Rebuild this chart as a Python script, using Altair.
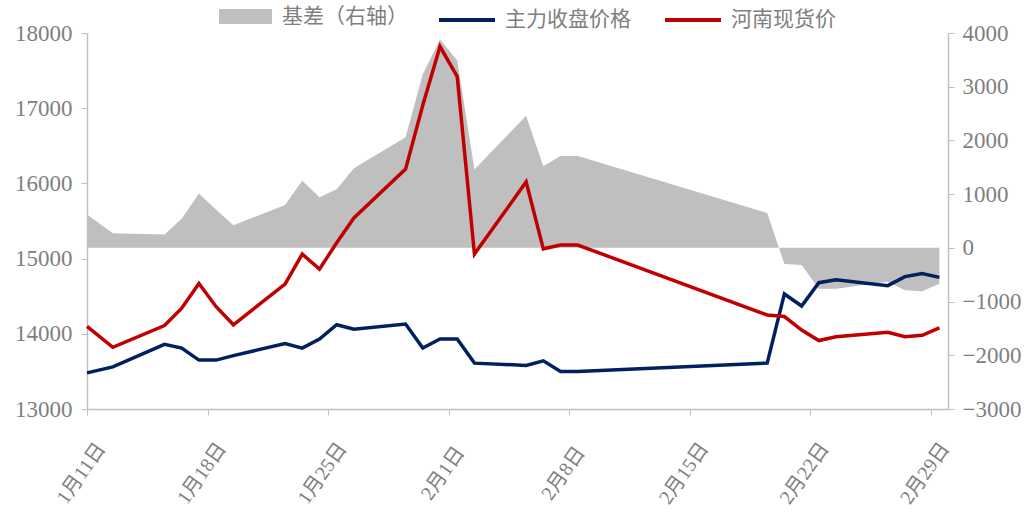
import altair as alt
import pandas as pd

# Trading days, 2024
dates = [
    "2024-01-11", "2024-01-12", "2024-01-15", "2024-01-16", "2024-01-17",
    "2024-01-18", "2024-01-19", "2024-01-22", "2024-01-23", "2024-01-24",
    "2024-01-25", "2024-01-26", "2024-01-29", "2024-01-30", "2024-01-31",
    "2024-02-01", "2024-02-02", "2024-02-05", "2024-02-06", "2024-02-07",
    "2024-02-08", "2024-02-19", "2024-02-20", "2024-02-21", "2024-02-22",
    "2024-02-23", "2024-02-26", "2024-02-27", "2024-02-28", "2024-02-29",
]

# Main contract closing price (yuan/t)
futures = [
    13480, 13560, 13860, 13810, 13650, 13650, 13710, 13870, 13810, 13930,
    14120, 14060, 14130, 13810, 13930, 13930, 13610, 13580, 13640, 13500,
    13500, 13610, 14530, 14370, 14680, 14720, 14640, 14760, 14800, 14750,
]

# Henan spot price (yuan/t)
spot = [
    14100, 13820, 14110, 14340, 14670, 14360, 14120, 14660, 15060, 14860,
    15210, 15540, 16190, 17040, 17820, 17420, 15060, 16020, 15130, 15180,
    15180, 14250, 14230, 14050, 13910, 13960, 14020, 13960, 13980, 14080,
]

# Basis (right axis)
basis = [
    620, 270, 250, 540, 1010, 710, 420, 800, 1250, 940,
    1090, 1480, 2060, 3230, 3880, 3490, 1460, 2460, 1520, 1710,
    1710, 650, -300, -320, -760, -760, -630, -790, -810, -670,
]

tick_days = [(1, 11), (1, 18), (1, 25), (2, 1), (2, 8), (2, 15), (2, 22), (2, 29)]
left_ticks = [13000, 14000, 15000, 16000, 17000, 18000]
right_ticks = [-3000, -2000, -1000, 0, 1000, 2000, 3000, 4000]

S_FUT = "主力收盘价格"
S_SPOT = "河南现货价"
S_BASIS = "基差（右轴）"

NAVY = "#002060"
RED = "#C00000"
AREA = "#BFBFBF"
TEXT = "#7F7F7F"
AXIS = "#BFBFBF"
NUM_FONT = "Liberation Serif"
CJK_FONT = "Liberation Serif, Noto Sans CJK SC"

# each trading day is drawn in the middle of its date slot; the series starts at the axis edge
start = pd.Timestamp("2024-01-11")
xpos = list(pd.to_datetime(dates) + pd.Timedelta(hours=12))
xpos[0] = start

df = pd.DataFrame({
    "t": xpos,
    S_FUT: futures,
    S_SPOT: spot,
    "basis": basis,
})

x_enc = alt.X(
    "t:T",
    title="",
    scale=alt.Scale(domain=[alt.DateTime(year=2024, month=1, date=11),
                            alt.DateTime(year=2024, month=3, date=1)]),
    axis=alt.Axis(
        values=[alt.DateTime(year=2024, month=m, date=d) for m, d in tick_days],
        format="%-m月%-d日",
        labelAngle=305,
        labelAlign="center",
        labelBaseline="middle",
        labelPadding=58,
        labelOffset=-6,
        labelFlush=False,
        labelOverlap=False,
        labelFont=CJK_FONT,
        labelFontSize=20,
        labelColor=TEXT,
        tickSize=6,
        tickColor=AXIS,
        domainColor=AXIS,
        domainWidth=1.5,
        grid=False,
    ),
)

basis_area = (
    alt.Chart(df)
    .transform_calculate(series=f"'{S_BASIS}'")
    .mark_area(interpolate="linear")
    .encode(
        x=x_enc,
        y=alt.Y(
            "basis:Q",
            title="",
            scale=alt.Scale(domain=[-3000, 4000], nice=False),
            axis=alt.Axis(
                orient="right",
                values=right_ticks,
                format="d",
                labelFont=NUM_FONT,
                labelFontSize=23,
                labelColor=TEXT,
                labelPadding=8,
                tickSize=6,
                tickColor=AXIS,
                domainColor=AXIS,
                domainWidth=1.5,
                grid=False,
            ),
        ),
        fill=alt.Fill(
            "series:N",
            scale=alt.Scale(domain=[S_BASIS], range=[AREA]),
            legend=alt.Legend(
                title=None,
                orient="none",
                legendX=132,
                legendY=-43,
                direction="horizontal",
                symbolType="M-1,-0.283H1V0.283H-1Z",
                symbolSize=2809,
                symbolStrokeWidth=0,
                labelFont=CJK_FONT,
                labelFontSize=21,
                labelColor=TEXT,
                labelOffset=10,
                padding=0,
            ),
        ),
    )
)

price_lines = (
    alt.Chart(df)
    .transform_fold([S_FUT, S_SPOT], as_=["series", "price"])
    .mark_line(strokeWidth=3.5, interpolate="linear")
    .encode(
        x=x_enc,
        y=alt.Y(
            "price:Q",
            title="",
            scale=alt.Scale(domain=[13000, 18000], nice=False),
            axis=alt.Axis(
                orient="left",
                values=left_ticks,
                format="d",
                labelFont=NUM_FONT,
                labelFontSize=23,
                labelColor=TEXT,
                labelPadding=9,
                tickSize=6,
                tickColor=AXIS,
                domainColor=AXIS,
                domainWidth=1.5,
                grid=False,
            ),
        ),
        stroke=alt.Stroke(
            "series:N",
            scale=alt.Scale(domain=[S_FUT, S_SPOT], range=[NAVY, RED]),
            legend=alt.Legend(
                title=None,
                orient="none",
                legendX=350,
                legendY=-43,
                direction="horizontal",
                symbolType="stroke",
                symbolSize=3136,
                symbolStrokeWidth=4,
                labelFont=CJK_FONT,
                labelFontSize=21,
                labelColor=TEXT,
                labelOffset=8,
                columnPadding=26,
                padding=0,
            ),
        ),
        order=alt.Order("series:N"),
    )
)

chart = (
    alt.layer(basis_area, price_lines)
    .resolve_scale(y="independent", fill="independent", stroke="independent")
    .properties(
        width=861,
        height=376,
        autosize=alt.AutoSizeParams(type="none"),
        padding={"left": 87, "top": 33, "right": 79, "bottom": 108},
        background="white",
    )
    .configure_view(strokeOpacity=0)
)

chart.save("out.html", embed_options={"renderer": "svg", "actions": False})
